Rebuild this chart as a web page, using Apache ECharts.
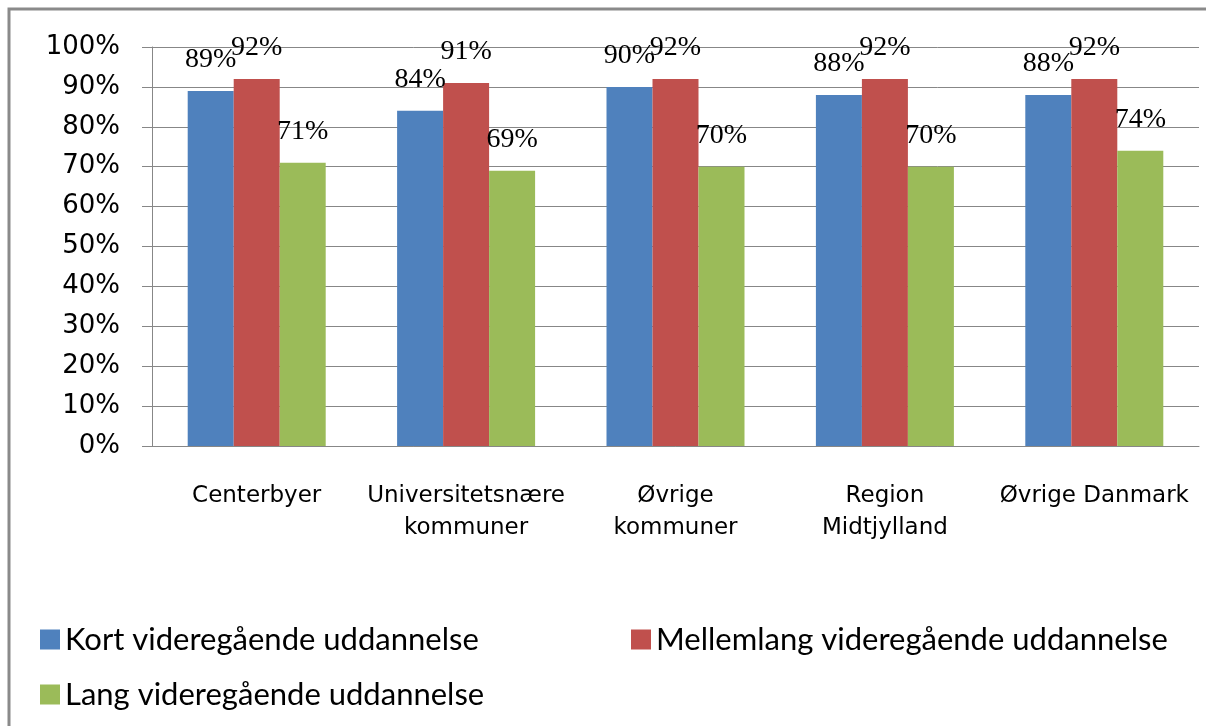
<!DOCTYPE html>
<html>
<head>
<meta charset="utf-8">
<title>Videregående uddannelse</title>
<script src="https://cdn.jsdelivr.net/npm/echarts@6/dist/echarts.min.js"></script>
<style>
  html, body { margin: 0; padding: 0; background: #fff; overflow: hidden; }
  #chart { width: 1206px; height: 726px; }
</style>
</head>
<body>
<div id="chart"></div>
<script>
// kategorier og andele (procent)
const categories = ['Centerbyer', 'Universitetsnære\nkommuner', 'Øvrige\nkommuner', 'Region\nMidtjylland', 'Øvrige Danmark'];
const seriesNames = ['Kort videregående uddannelse', 'Mellemlang videregående uddannelse', 'Lang videregående uddannelse'];
const kortValues = [89, 84, 90, 88, 88];
const mellemValues = [92, 91, 92, 92, 92];
const langValues = [71, 69, 70, 70, 74];
const colors = ['#4F81BD', '#C0504D', '#9BBB59'];

const gridColor = '#878787';

function barSeries(name, data, color) {
  return {
    name: name,
    type: 'bar',
    data: data,
    barWidth: 46,
    barGap: '0%',
    itemStyle: { color: color },
    label: {
      show: true,
      position: 'top',
      distance: 17,
      formatter: '{c}%',
      fontFamily: 'Liberation Serif',
      fontSize: 28,
      color: '#000'
    }
  };
}

function legendItem(name, left, top) {
  return {
    data: [name],
    left: left,
    top: top,
    padding: 0,
    icon: 'rect',
    itemWidth: 20,
    itemHeight: 20,
    selectedMode: false,
    textStyle: { fontFamily: 'Lato', fontSize: 31, lineHeight: 30, color: '#000' }
  };
}

const chart = echarts.init(document.getElementById('chart'));
chart.setOption({
  animation: false,
  backgroundColor: '#fff',
  graphic: [{
    type: 'rect',
    shape: { x: 9, y: 9, width: 1400, height: 900 },
    style: { fill: 'none', stroke: '#8a8a8a', lineWidth: 3 },
    silent: true
  }],
  grid: { left: 152, right: 7, top: 47, bottom: 280 },
  legend: [
    legendItem(seriesNames[0], 40, 624),
    legendItem(seriesNames[1], 631, 624),
    legendItem(seriesNames[2], 40, 679)
  ],
  xAxis: {
    type: 'category',
    data: categories,
    axisLine: { lineStyle: { color: gridColor, width: 1 } },
    axisTick: { length: 8, lineStyle: { color: gridColor } },
    axisLabel: {
      margin: 34,
      fontFamily: 'DejaVu Sans',
      fontSize: 23,
      lineHeight: 32,
      color: '#000',
      interval: 0
    }
  },
  yAxis: {
    type: 'value',
    min: 0,
    max: 100,
    interval: 10,
    axisLine: { show: true, lineStyle: { color: gridColor, width: 1 } },
    axisTick: { show: true, length: 10, lineStyle: { color: gridColor } },
    splitLine: { lineStyle: { color: gridColor, width: 1 } },
    axisLabel: {
      formatter: '{value}%',
      margin: 32,
      fontFamily: 'DejaVu Sans',
      fontSize: 26,
      color: '#000'
    }
  },
  series: [
    barSeries(seriesNames[0], kortValues, colors[0]),
    barSeries(seriesNames[1], mellemValues, colors[1]),
    barSeries(seriesNames[2], langValues, colors[2])
  ]
});
</script>
</body>
</html>
